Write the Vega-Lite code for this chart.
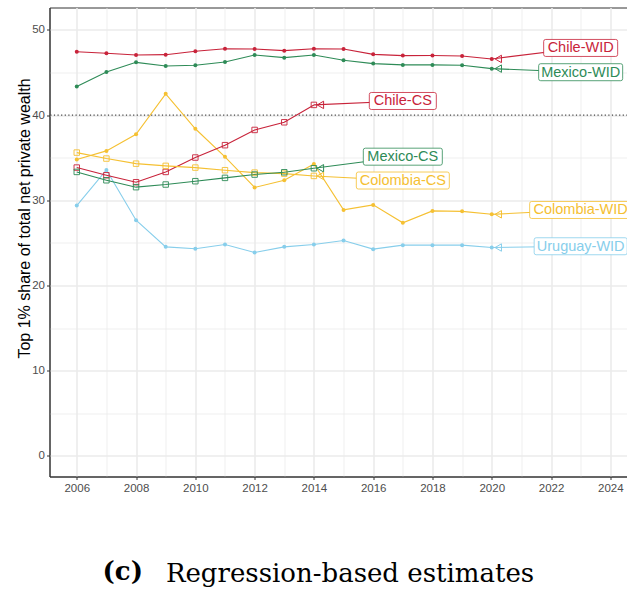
{
  "$schema": "https://vega.github.io/schema/vega-lite/v6.json",
  "autosize": {"type": "none"},
  "padding": {"left": 49.5, "top": 7.5, "right": 0, "bottom": 112.5},
  "width": 578,
  "height": 469,
  "background": "white",
  "view": {"stroke": "#333333", "strokeWidth": 1},
  "title": {"text": "(c)", "orient": "top", "anchor": "start", "frame": "group", "font": "DejaVu Serif", "fontSize": 26, "fontWeight": "bold", "color": "black", "baseline": "alphabetic", "dx": 53, "dy": 602},
  "config": {
    "axis": {"gridColor": "#EBEBEB", "domainColor": "#333333", "tickColor": "#333333", "tickSize": 3, "labelFont": "Liberation Sans", "labelFontSize": 11.5, "labelColor": "#4D4D4D", "labelPadding": 2}
  },
  "datasets": {
    "pts": [
      {"series": "Chile-WID", "country": "Chile", "source": "WID", "year": 2006, "value": 47.45},
      {"series": "Chile-WID", "country": "Chile", "source": "WID", "year": 2007, "value": 47.26},
      {"series": "Chile-WID", "country": "Chile", "source": "WID", "year": 2008, "value": 47.06},
      {"series": "Chile-WID", "country": "Chile", "source": "WID", "year": 2009, "value": 47.1},
      {"series": "Chile-WID", "country": "Chile", "source": "WID", "year": 2010, "value": 47.5},
      {"series": "Chile-WID", "country": "Chile", "source": "WID", "year": 2011, "value": 47.8},
      {"series": "Chile-WID", "country": "Chile", "source": "WID", "year": 2012, "value": 47.77},
      {"series": "Chile-WID", "country": "Chile", "source": "WID", "year": 2013, "value": 47.57},
      {"series": "Chile-WID", "country": "Chile", "source": "WID", "year": 2014, "value": 47.8},
      {"series": "Chile-WID", "country": "Chile", "source": "WID", "year": 2015, "value": 47.77},
      {"series": "Chile-WID", "country": "Chile", "source": "WID", "year": 2016, "value": 47.14},
      {"series": "Chile-WID", "country": "Chile", "source": "WID", "year": 2017, "value": 46.99},
      {"series": "Chile-WID", "country": "Chile", "source": "WID", "year": 2018, "value": 47.0},
      {"series": "Chile-WID", "country": "Chile", "source": "WID", "year": 2019, "value": 46.95},
      {"series": "Chile-WID", "country": "Chile", "source": "WID", "year": 2020, "value": 46.6},
      {"series": "Mexico-WID", "country": "Mexico", "source": "WID", "year": 2006, "value": 43.35},
      {"series": "Mexico-WID", "country": "Mexico", "source": "WID", "year": 2007, "value": 45.07},
      {"series": "Mexico-WID", "country": "Mexico", "source": "WID", "year": 2008, "value": 46.2},
      {"series": "Mexico-WID", "country": "Mexico", "source": "WID", "year": 2009, "value": 45.77},
      {"series": "Mexico-WID", "country": "Mexico", "source": "WID", "year": 2010, "value": 45.85},
      {"series": "Mexico-WID", "country": "Mexico", "source": "WID", "year": 2011, "value": 46.24},
      {"series": "Mexico-WID", "country": "Mexico", "source": "WID", "year": 2012, "value": 47.06},
      {"series": "Mexico-WID", "country": "Mexico", "source": "WID", "year": 2013, "value": 46.75},
      {"series": "Mexico-WID", "country": "Mexico", "source": "WID", "year": 2014, "value": 47.06},
      {"series": "Mexico-WID", "country": "Mexico", "source": "WID", "year": 2015, "value": 46.44},
      {"series": "Mexico-WID", "country": "Mexico", "source": "WID", "year": 2016, "value": 46.05},
      {"series": "Mexico-WID", "country": "Mexico", "source": "WID", "year": 2017, "value": 45.9},
      {"series": "Mexico-WID", "country": "Mexico", "source": "WID", "year": 2018, "value": 45.9},
      {"series": "Mexico-WID", "country": "Mexico", "source": "WID", "year": 2019, "value": 45.85},
      {"series": "Mexico-WID", "country": "Mexico", "source": "WID", "year": 2020, "value": 45.46},
      {"series": "Colombia-WID", "country": "Colombia", "source": "WID", "year": 2006, "value": 34.8},
      {"series": "Colombia-WID", "country": "Colombia", "source": "WID", "year": 2007, "value": 35.8},
      {"series": "Colombia-WID", "country": "Colombia", "source": "WID", "year": 2008, "value": 37.75},
      {"series": "Colombia-WID", "country": "Colombia", "source": "WID", "year": 2009, "value": 42.5},
      {"series": "Colombia-WID", "country": "Colombia", "source": "WID", "year": 2010, "value": 38.4},
      {"series": "Colombia-WID", "country": "Colombia", "source": "WID", "year": 2011, "value": 35.1},
      {"series": "Colombia-WID", "country": "Colombia", "source": "WID", "year": 2012, "value": 31.5},
      {"series": "Colombia-WID", "country": "Colombia", "source": "WID", "year": 2013, "value": 32.35},
      {"series": "Colombia-WID", "country": "Colombia", "source": "WID", "year": 2014, "value": 34.27},
      {"series": "Colombia-WID", "country": "Colombia", "source": "WID", "year": 2015, "value": 28.87},
      {"series": "Colombia-WID", "country": "Colombia", "source": "WID", "year": 2016, "value": 29.46},
      {"series": "Colombia-WID", "country": "Colombia", "source": "WID", "year": 2017, "value": 27.35},
      {"series": "Colombia-WID", "country": "Colombia", "source": "WID", "year": 2018, "value": 28.75},
      {"series": "Colombia-WID", "country": "Colombia", "source": "WID", "year": 2019, "value": 28.7},
      {"series": "Colombia-WID", "country": "Colombia", "source": "WID", "year": 2020, "value": 28.35},
      {"series": "Uruguay-WID", "country": "Uruguay", "source": "WID", "year": 2006, "value": 29.38},
      {"series": "Uruguay-WID", "country": "Uruguay", "source": "WID", "year": 2007, "value": 33.57},
      {"series": "Uruguay-WID", "country": "Uruguay", "source": "WID", "year": 2008, "value": 27.66},
      {"series": "Uruguay-WID", "country": "Uruguay", "source": "WID", "year": 2009, "value": 24.53},
      {"series": "Uruguay-WID", "country": "Uruguay", "source": "WID", "year": 2010, "value": 24.3},
      {"series": "Uruguay-WID", "country": "Uruguay", "source": "WID", "year": 2011, "value": 24.8},
      {"series": "Uruguay-WID", "country": "Uruguay", "source": "WID", "year": 2012, "value": 23.86},
      {"series": "Uruguay-WID", "country": "Uruguay", "source": "WID", "year": 2013, "value": 24.53},
      {"series": "Uruguay-WID", "country": "Uruguay", "source": "WID", "year": 2014, "value": 24.8},
      {"series": "Uruguay-WID", "country": "Uruguay", "source": "WID", "year": 2015, "value": 25.27},
      {"series": "Uruguay-WID", "country": "Uruguay", "source": "WID", "year": 2016, "value": 24.26},
      {"series": "Uruguay-WID", "country": "Uruguay", "source": "WID", "year": 2017, "value": 24.73},
      {"series": "Uruguay-WID", "country": "Uruguay", "source": "WID", "year": 2018, "value": 24.73},
      {"series": "Uruguay-WID", "country": "Uruguay", "source": "WID", "year": 2019, "value": 24.73},
      {"series": "Uruguay-WID", "country": "Uruguay", "source": "WID", "year": 2020, "value": 24.45},
      {"series": "Chile-CS", "country": "Chile", "source": "CS", "year": 2006, "value": 33.84},
      {"series": "Chile-CS", "country": "Chile", "source": "CS", "year": 2007, "value": 32.94},
      {"series": "Chile-CS", "country": "Chile", "source": "CS", "year": 2008, "value": 32.12},
      {"series": "Chile-CS", "country": "Chile", "source": "CS", "year": 2009, "value": 33.33},
      {"series": "Chile-CS", "country": "Chile", "source": "CS", "year": 2010, "value": 35.02},
      {"series": "Chile-CS", "country": "Chile", "source": "CS", "year": 2011, "value": 36.47},
      {"series": "Chile-CS", "country": "Chile", "source": "CS", "year": 2012, "value": 38.26},
      {"series": "Chile-CS", "country": "Chile", "source": "CS", "year": 2013, "value": 39.16},
      {"series": "Chile-CS", "country": "Chile", "source": "CS", "year": 2014, "value": 41.2},
      {"series": "Colombia-CS", "country": "Colombia", "source": "CS", "year": 2006, "value": 35.6},
      {"series": "Colombia-CS", "country": "Colombia", "source": "CS", "year": 2007, "value": 34.9},
      {"series": "Colombia-CS", "country": "Colombia", "source": "CS", "year": 2008, "value": 34.3},
      {"series": "Colombia-CS", "country": "Colombia", "source": "CS", "year": 2009, "value": 34.04},
      {"series": "Colombia-CS", "country": "Colombia", "source": "CS", "year": 2010, "value": 33.84},
      {"series": "Colombia-CS", "country": "Colombia", "source": "CS", "year": 2011, "value": 33.53},
      {"series": "Colombia-CS", "country": "Colombia", "source": "CS", "year": 2012, "value": 33.25},
      {"series": "Colombia-CS", "country": "Colombia", "source": "CS", "year": 2013, "value": 33.13},
      {"series": "Colombia-CS", "country": "Colombia", "source": "CS", "year": 2014, "value": 32.86},
      {"series": "Mexico-CS", "country": "Mexico", "source": "CS", "year": 2006, "value": 33.33},
      {"series": "Mexico-CS", "country": "Mexico", "source": "CS", "year": 2007, "value": 32.35},
      {"series": "Mexico-CS", "country": "Mexico", "source": "CS", "year": 2008, "value": 31.54},
      {"series": "Mexico-CS", "country": "Mexico", "source": "CS", "year": 2009, "value": 31.85},
      {"series": "Mexico-CS", "country": "Mexico", "source": "CS", "year": 2010, "value": 32.24},
      {"series": "Mexico-CS", "country": "Mexico", "source": "CS", "year": 2011, "value": 32.63},
      {"series": "Mexico-CS", "country": "Mexico", "source": "CS", "year": 2012, "value": 33.02},
      {"series": "Mexico-CS", "country": "Mexico", "source": "CS", "year": 2013, "value": 33.29},
      {"series": "Mexico-CS", "country": "Mexico", "source": "CS", "year": 2014, "value": 33.76}
    ],
    "labels": [
      {"series": "Chile-WID", "country": "Chile", "year": 2020, "value": 46.6, "label_year": 2023, "label_value": 47.89},
      {"series": "Mexico-WID", "country": "Mexico", "year": 2020, "value": 45.46, "label_year": 2023, "label_value": 45.04},
      {"series": "Colombia-WID", "country": "Colombia", "year": 2020, "value": 28.35, "label_year": 2023, "label_value": 28.86},
      {"series": "Uruguay-WID", "country": "Uruguay", "year": 2020, "value": 24.45, "label_year": 2023, "label_value": 24.6},
      {"series": "Chile-CS", "country": "Chile", "year": 2014, "value": 41.2, "label_year": 2017, "label_value": 41.66},
      {"series": "Mexico-CS", "country": "Mexico", "year": 2014, "value": 33.76, "label_year": 2017, "label_value": 35.12},
      {"series": "Colombia-CS", "country": "Colombia", "year": 2014, "value": 32.86, "label_year": 2017, "label_value": 32.32}
    ]
  },
  "encoding": {
    "x": {"field": "year", "type": "quantitative", "scale": {"domain": [2005.08, 2024.58], "nice": false, "zero": false},
      "axis": {"values": [2006, 2007, 2008, 2009, 2010, 2011, 2012, 2013, 2014, 2015, 2016, 2017, 2018, 2019, 2020, 2021, 2022, 2023, 2024],
        "format": "d", "labelExpr": "datum.value % 2 === 0 ? datum.label : ''",
        "gridWidth": {"condition": {"test": "datum.value % 2 !== 0", "value": 0.8}, "value": 1.6},
        "tickOpacity": {"condition": {"test": "datum.value % 2 !== 0", "value": 0}, "value": 1},
        "labelPadding": 3,
        "title": "Regression-based estimates", "titleFont": "DejaVu Serif", "titleFontSize": 26, "titleFontWeight": "normal", "titleColor": "black",
        "titleX": 300, "titleY": 104.5, "titleAlign": "center", "titleBaseline": "alphabetic"}},
    "y": {"field": "value", "type": "quantitative", "scale": {"domain": [-2.44, 52.64], "nice": false, "zero": false},
      "axis": {"values": [0, 5, 10, 15, 20, 25, 30, 35, 40, 45, 50],
        "labelExpr": "datum.value % 10 === 0 ? datum.label : ''",
        "gridWidth": {"condition": {"test": "datum.value % 10 !== 0", "value": 0.8}, "value": 1.6},
        "tickOpacity": {"condition": {"test": "datum.value % 10 !== 0", "value": 0}, "value": 1},
        "title": "Top 1% share of total net private wealth", "titleFont": "Liberation Sans", "titleFontSize": 16, "titleFontWeight": "normal", "titleColor": "black",
        "titleX": -24.8, "titleY": 210.5, "titleAngle": 270, "titleAlign": "center", "titleBaseline": "middle"}}
  },
  "layer": [
    {"data": {"values": [{"ref": 40}]}, "mark": {"type": "rule", "color": "#444444", "strokeWidth": 1.2, "strokeDash": [1.2, 2.4]},
      "encoding": {"y": {"field": "ref", "type": "quantitative"}, "x": null}},
    {"data": {"name": "pts"}, "mark": {"type": "line", "strokeWidth": 1.1},
      "encoding": {"detail": {"field": "series"}, "color": {"field": "country", "type": "nominal", "scale": {"domain": ["Chile", "Colombia", "Mexico", "Uruguay"], "range": ["#C8233A", "#F5C032", "#2E8B57", "#87CEEB"]}, "legend": null}}},
    {"data": {"name": "pts"}, "transform": [{"filter": "datum.source === 'WID'"}], "mark": {"type": "circle", "size": 16, "opacity": 1},
      "encoding": {"color": {"field": "country", "type": "nominal", "legend": null}}},
    {"data": {"name": "pts"}, "transform": [{"filter": "datum.source === 'CS'"}], "mark": {"type": "point", "shape": "square", "filled": false, "size": 30, "strokeWidth": 0.9, "opacity": 1},
      "encoding": {"color": {"field": "country", "type": "nominal", "legend": null}}},
    {"data": {"name": "labels"}, "mark": {"type": "rule", "strokeWidth": 1.1},
      "encoding": {"x2": {"field": "label_year"}, "y2": {"field": "label_value"}, "color": {"field": "country", "type": "nominal", "legend": null}}},
    {"data": {"name": "labels"}, "mark": {"type": "point", "shape": "triangle-left", "filled": false, "size": 55, "strokeWidth": 1, "opacity": 1, "xOffset": 6.5},
      "encoding": {"color": {"field": "country", "type": "nominal", "legend": null}}},
    {"data": {"name": "labels"}, "mark": {"type": "point", "fill": "white", "fillOpacity": 1, "opacity": 1, "strokeWidth": 0.8, "size": 10000},
      "encoding": {"x": {"field": "label_year", "type": "quantitative"}, "y": {"field": "label_value", "type": "quantitative"},
        "stroke": {"field": "country", "type": "nominal", "scale": {"domain": ["Chile", "Colombia", "Mexico", "Uruguay"], "range": ["#C8233A", "#F5C032", "#2E8B57", "#87CEEB"]}, "legend": null},
        "shape": {"field": "series", "type": "nominal", "legend": null, "scale": {
          "domain": ["Chile-WID", "Mexico-WID", "Colombia-WID", "Uruguay-WID", "Chile-CS", "Mexico-CS", "Colombia-CS"],
          "range": [
            "M -0.70 -0.17 H 0.70 Q 0.74 -0.17 0.74 -0.13 V 0.13 Q 0.74 0.17 0.70 0.17 H -0.70 Q -0.74 0.17 -0.74 0.13 V -0.13 Q -0.74 -0.17 -0.70 -0.17 Z",
            "M -0.80 -0.17 H 0.80 Q 0.84 -0.17 0.84 -0.13 V 0.13 Q 0.84 0.17 0.80 0.17 H -0.80 Q -0.84 0.17 -0.84 0.13 V -0.13 Q -0.84 -0.17 -0.80 -0.17 Z",
            "M -0.98 -0.17 H 0.98 Q 1.02 -0.17 1.02 -0.13 V 0.13 Q 1.02 0.17 0.98 0.17 H -0.98 Q -1.02 0.17 -1.02 0.13 V -0.13 Q -1.02 -0.17 -0.98 -0.17 Z",
            "M -0.89 -0.17 H 0.89 Q 0.93 -0.17 0.93 -0.13 V 0.13 Q 0.93 0.17 0.89 0.17 H -0.89 Q -0.93 0.17 -0.93 0.13 V -0.13 Q -0.93 -0.17 -0.89 -0.17 Z",
            "M -0.63 -0.17 H 0.63 Q 0.67 -0.17 0.67 -0.13 V 0.13 Q 0.67 0.17 0.63 0.17 H -0.63 Q -0.67 0.17 -0.67 0.13 V -0.13 Q -0.67 -0.17 -0.63 -0.17 Z",
            "M -0.75 -0.17 H 0.75 Q 0.79 -0.17 0.79 -0.13 V 0.13 Q 0.79 0.17 0.75 0.17 H -0.75 Q -0.79 0.17 -0.79 0.13 V -0.13 Q -0.79 -0.17 -0.75 -0.17 Z",
            "M -0.89 -0.17 H 0.89 Q 0.93 -0.17 0.93 -0.13 V 0.13 Q 0.93 0.17 0.89 0.17 H -0.89 Q -0.93 0.17 -0.93 0.13 V -0.13 Q -0.93 -0.17 -0.89 -0.17 Z"
          ]}}}},
    {"data": {"name": "labels"}, "mark": {"type": "text", "font": "Liberation Sans", "fontSize": 14.5, "align": "center", "baseline": "middle", "dy": 0.5},
      "encoding": {"x": {"field": "label_year", "type": "quantitative"}, "y": {"field": "label_value", "type": "quantitative"}, "text": {"field": "series"},
        "color": {"field": "country", "type": "nominal", "legend": null}}}
  ]
}
